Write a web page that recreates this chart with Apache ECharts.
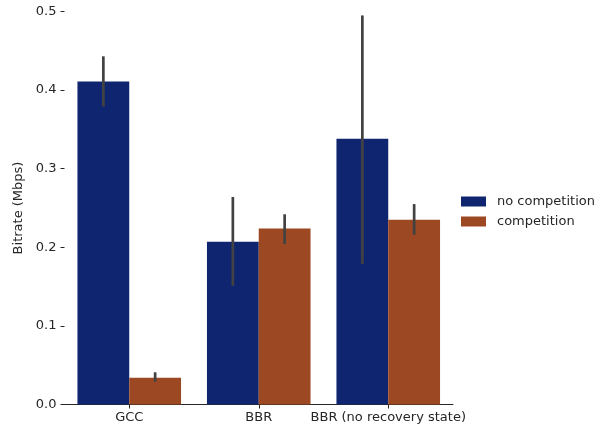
<!DOCTYPE html>
<html><head><meta charset="utf-8">
<script src="https://cdn.jsdelivr.net/npm/echarts@6/dist/echarts.min.js"></script>
<style>html,body{margin:0;padding:0;background:#fff}#c{width:610px;height:432px}</style>
</head><body><div id="c"></div>
<script>
const categories = ['GCC', 'BBR', 'BBR (no recovery state)'];
const seriesNames = ['no competition', 'competition'];
const noCompetition = [0.411, 0.207, 0.338];
const competition = [0.034, 0.224, 0.235];
const noCompetitionCI = [[0.379, 0.443], [0.151, 0.264], [0.179, 0.495]];
const competitionCI = [[0.029, 0.041], [0.204, 0.242], [0.216, 0.255]];
const yTicks = [0.0, 0.1, 0.2, 0.3, 0.4, 0.5];

const colors = ['#10256f', '#9c4822'];
const txt = '#262626';
const font = 'DejaVu Sans';

function errSeries(ci, side) {
  return {
    type: 'custom',
    z: 5,
    silent: true,
    data: ci.map((r, i) => [i, r[0], r[1]]),
    renderItem: function (params, api) {
      const c = api.value(0);
      const lo = api.coord([c, api.value(1)]);
      const hi = api.coord([c, api.value(2)]);
      const w = api.size([1, 0])[0];
      const off = side * w * 0.8 / 4;
      return {
        type: 'line',
        shape: { x1: lo[0] + off, y1: lo[1], x2: hi[0] + off, y2: hi[1] },
        style: { stroke: '#424242', lineWidth: 2.7 }
      };
    }
  };
}

const chart = echarts.init(document.getElementById('c'));
chart.setOption({
  animation: false,
  textStyle: { fontFamily: font },
  grid: { left: 64.5, right: 157, top: 11.5, bottom: 27.5 },
  legend: {
    data: seriesNames,
    orient: 'vertical',
    left: 461, top: 195, padding: 0,
    itemWidth: 25, itemHeight: 10, itemGap: 7,
    icon: 'rect',
    textStyle: { color: txt, fontSize: 13, fontFamily: font, padding: [0, 0, 0, 6] }
  },
  xAxis: {
    type: 'category',
    data: categories,
    axisLine: { show: true, lineStyle: { color: txt, width: 1 } },
    axisTick: { show: true, alignWithLabel: true, length: 4, lineStyle: { color: txt } },
    axisLabel: { color: txt, fontSize: 13, margin: 7, fontFamily: font, interval: 0 }
  },
  yAxis: {
    type: 'value',
    min: yTicks[0], max: yTicks[yTicks.length - 1], interval: 0.1,
    name: 'Bitrate (Mbps)',
    nameLocation: 'middle', nameGap: 34, nameRotate: 90,
    nameTextStyle: { color: txt, fontSize: 13, fontFamily: font },
    axisLine: { show: false },
    axisTick: { show: true, length: 4, lineStyle: { color: txt } },
    splitLine: { show: false },
    axisLabel: { color: txt, fontSize: 13, margin: 8, fontFamily: font,
      formatter: v => v.toFixed(1) }
  },
  series: [
    { name: seriesNames[0], type: 'bar', data: noCompetition, barGap: '0%', barCategoryGap: '20%',
      itemStyle: { color: colors[0] } },
    { name: seriesNames[1], type: 'bar', data: competition, barGap: '0%', barCategoryGap: '20%',
      itemStyle: { color: colors[1] } },
    errSeries(noCompetitionCI, -1),
    errSeries(competitionCI, 1)
  ]
});
</script></body></html>
